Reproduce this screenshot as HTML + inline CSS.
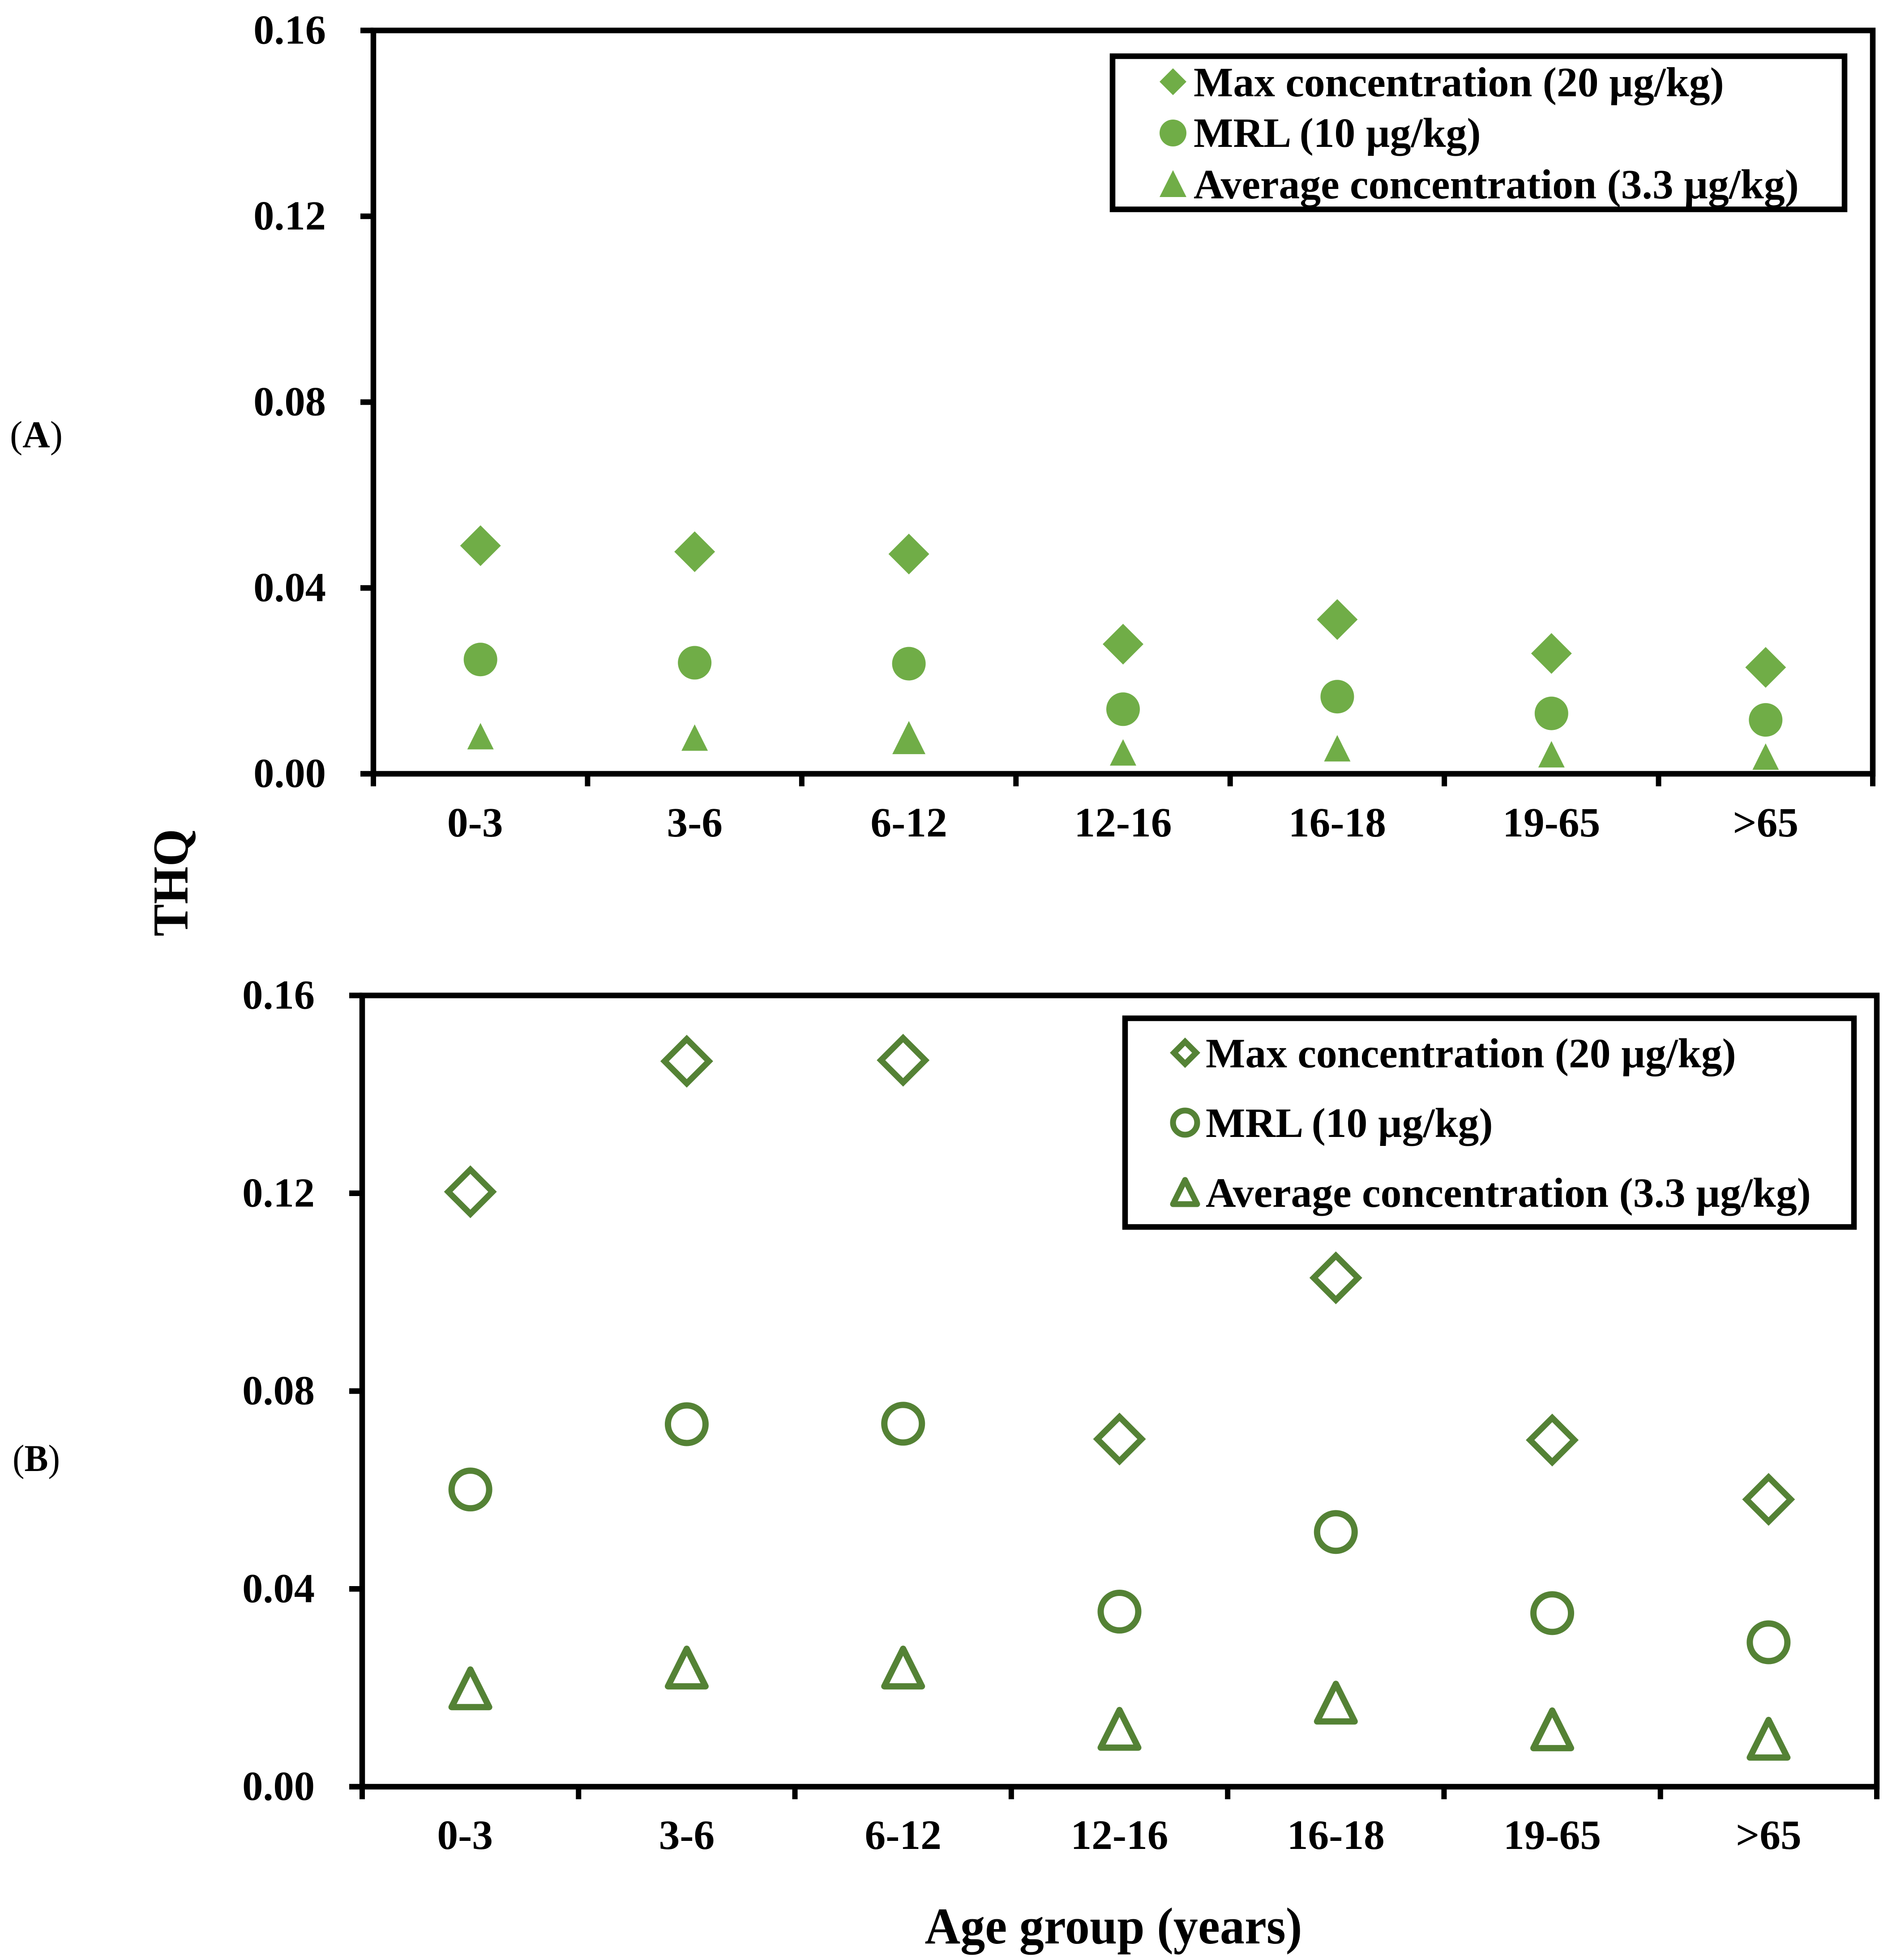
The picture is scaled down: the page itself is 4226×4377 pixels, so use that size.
<!DOCTYPE html>
<html lang="en">
<head>
<meta charset="utf-8">
<title>THQ by age group</title>
<style>
  html, body { margin: 0; padding: 0; background: #fff; }
  svg { display: block; }
  text { font-family: "Liberation Serif", "Times New Roman", serif; font-weight: bold; fill: #000; }
</style>
</head>
<body>
<svg id="figure" xmlns="http://www.w3.org/2000/svg" width="4226" height="4377" viewBox="0 0 4226 4377">
  <rect x="0" y="0" width="4226" height="4377" fill="#ffffff"/>
  <g id="panel-a"></g>
  <g id="panel-b"></g>

  <text x="22" y="999" font-size="85" textLength="118" lengthAdjust="spacingAndGlyphs"><tspan font-weight="normal">(</tspan>A<tspan font-weight="normal">)</tspan></text>
  <text x="28" y="3285" font-size="85" textLength="106" lengthAdjust="spacingAndGlyphs"><tspan font-weight="normal">(</tspan>B<tspan font-weight="normal">)</tspan></text>
  <text transform="translate(419 1971) rotate(-90)" text-anchor="middle" font-size="112" textLength="240" lengthAdjust="spacingAndGlyphs">THQ</text>
  <text x="2487" y="4340" text-anchor="middle" font-size="115" textLength="843" lengthAdjust="spacingAndGlyphs">Age group (years)</text>

  <g id="legend-a">
    <text x="2666" y="215" font-size="93.6">Max concentration (20 µg/kg)</text>
    <text x="2666" y="328" font-size="93.6">MRL (10 µg/kg)</text>
    <text x="2666" y="443" font-size="93.6">Average concentration (3.3 µg/kg)</text>
    <rect x="2485" y="125.5" width="1635" height="342" fill="none" stroke="#000" stroke-width="12.5"/>
  </g>
  <g id="legend-b">
    <text x="2693" y="2383.5" font-size="93.6">Max concentration (20 µg/kg)</text>
    <text x="2693" y="2539" font-size="93.6">MRL (10 µg/kg)</text>
    <text x="2693" y="2695" font-size="93.6">Average concentration (3.3 µg/kg)</text>
    <rect x="2513" y="2274" width="1628" height="466" fill="none" stroke="#000" stroke-width="12.5"/>
  </g>
</svg>

<script>
const categories = ['0-3', '3-6', '6-12', '12-16', '16-18', '19-65', '>65'];
const yTicks = [0, 0.04, 0.08, 0.12, 0.16];
const yTickLabels = ['0.00', '0.04', '0.08', '0.12', '0.16'];

const panelAMax = [0.0491, 0.0478, 0.0473, 0.0279, 0.0332, 0.0259, 0.0229];
const panelAMrl = [0.0246, 0.0239, 0.0237, 0.0139, 0.0166, 0.0130, 0.0116];
const panelAAverage = [0.0081, 0.0078, 0.0078, 0.0046, 0.0055, 0.0042, 0.0037];

const panelBMax = [0.1203, 0.1467, 0.1469, 0.0703, 0.1029, 0.0701, 0.0581];
const panelBMrl = [0.0601, 0.0733, 0.0734, 0.0354, 0.0515, 0.0351, 0.0292];
const panelBAverage = [0.0199, 0.0241, 0.0241, 0.0117, 0.0170, 0.0116, 0.0097];

const NS = 'http://www.w3.org/2000/svg';

function make(parent, tag, attrs) {
  const el = document.createElementNS(NS, tag);
  for (const k in attrs) el.setAttribute(k, attrs[k]);
  parent.appendChild(el);
  return el;
}

function solidShape(parent, kind, cx, cy, size, color) {
  const h = size / 2;
  if (kind === 'circle') return make(parent, 'circle', { cx: cx, cy: cy, r: h, fill: color });
  const pts = kind === 'diamond'
    ? [[cx, cy - h], [cx + h, cy], [cx, cy + h], [cx - h, cy]]
    : [[cx, cy - h], [cx + h, cy + h], [cx - h, cy + h]];
  return make(parent, 'polygon', { points: pts.map(p => p.join(',')).join(' '), fill: color });
}

function hollowShape(parent, kind, cx, cy, size, color, sw) {
  const h = size / 2;
  if (kind === 'circle') return make(parent, 'circle', { cx: cx, cy: cy, r: h - sw / 2, fill: 'none', stroke: color, 'stroke-width': sw });
  if (kind === 'diamond') {
    const d = h - sw * 0.7071;
    const pts = [[cx, cy - d], [cx + d, cy], [cx, cy + d], [cx - d, cy]];
    return make(parent, 'polygon', { points: pts.map(p => p.join(',')).join(' '), fill: 'none', stroke: color, 'stroke-width': sw, 'stroke-linejoin': 'miter' });
  }
  const t = h - sw / 2;
  const pts = [[cx, cy - t], [cx + t, cy + t], [cx - t, cy + t]];
  return make(parent, 'polygon', { points: pts.map(p => p.join(',')).join(' '), fill: 'none', stroke: color, 'stroke-width': sw, 'stroke-linejoin': 'round' });
}

function drawAxes(g, box, xOf, yOf, labelRight, xLabelY) {
  const w = 12.5;
  const frame = make(g, 'rect', { x: box.left, y: box.top, width: box.right - box.left, height: box.bottom - box.top, fill: 'none', stroke: '#000', 'stroke-width': w });
  
  

  yTicks.forEach((v, i) => {
    const y = yOf(v);
    const tick = make(g, 'line', { x1: box.left - 29, x2: box.left, y1: y, y2: y, stroke: '#000', 'stroke-width': w });
    
    
    const label = make(g, 'text', { x: labelRight, y: y + 29.5, 'text-anchor': 'end', 'font-size': 92.5 });
    label.textContent = yTickLabels[i];
    
    
  });

  for (let i = 0; i <= categories.length; i++) {
    const x = box.left + i * (box.right - box.left) / categories.length;
    const tick = make(g, 'line', { x1: x, x2: x, y1: box.bottom, y2: box.bottom + 28, stroke: '#000', 'stroke-width': 12 });
    
    
  }

  categories.forEach((c, i) => {
    const label = make(g, 'text', { x: xOf(i) + (i === 0 ? -12 : 0), y: xLabelY, 'text-anchor': 'middle', 'font-size': 93.5 });
    label.textContent = c;
    
    
  });
}

/* Panel A */
const gA = document.getElementById('panel-a');
const boxA = { left: 834, right: 4183, top: 68, bottom: 1728 };
const xA = i => boxA.left + (i + 0.5) * (boxA.right - boxA.left) / categories.length;
const yA = v => boxA.bottom - (v / 0.16) * (boxA.bottom - boxA.top);
const greenA = '#70AD47';
drawAxes(gA, boxA, xA, yA, 728, 1868);

panelAMax.forEach((v, i) => {
  const m = solidShape(gA, 'diamond', xA(i), yA(v), 91, greenA);
  
  
});
panelAMrl.forEach((v, i) => {
  const m = solidShape(gA, 'circle', xA(i), yA(v), 75, greenA);
  
  
});
panelAAverage.forEach((v, i) => {
  const m = solidShape(gA, 'triangle', xA(i), yA(v), categories[i] === '6-12' ? 74 : 59, greenA);
  
  
});

/* Panel B */
const gB = document.getElementById('panel-b');
const boxB = { left: 809, right: 4192, top: 2223, bottom: 3990 };
const xB = i => boxB.left + (i + 0.5) * (boxB.right - boxB.left) / categories.length;
const yB = v => boxB.bottom - (v / 0.16) * (boxB.bottom - boxB.top);
const greenB = '#548235';
drawAxes(gB, boxB, xB, yB, 703, 4129);

panelBMax.forEach((v, i) => {
  const m = hollowShape(gB, 'diamond', xB(i), yB(v), 118, greenB, 13.5);
  
  
});
panelBMrl.forEach((v, i) => {
  const m = hollowShape(gB, 'circle', xB(i), yB(v), 98, greenB, 14);
  
  
});
panelBAverage.forEach((v, i) => {
  const m = hollowShape(gB, 'triangle', xB(i), yB(v), 98, greenB, 14);
  
  
});

/* Legend markers */
const legA = document.getElementById('legend-a');
const la1 = solidShape(legA, 'diamond', 2620, 182.5, 60, greenA);


const la2 = solidShape(legA, 'circle', 2620, 297, 60, greenA);


const la3 = solidShape(legA, 'triangle', 2620, 410, 60, greenA);



const legB = document.getElementById('legend-b');
const lb1 = hollowShape(legB, 'diamond', 2647, 2351, 68, greenB, 13);


const lb2 = hollowShape(legB, 'circle', 2647, 2507, 67, greenB, 13);


const lb3 = hollowShape(legB, 'triangle', 2647, 2662, 67, greenB, 13);


</script>
</body>
</html>
